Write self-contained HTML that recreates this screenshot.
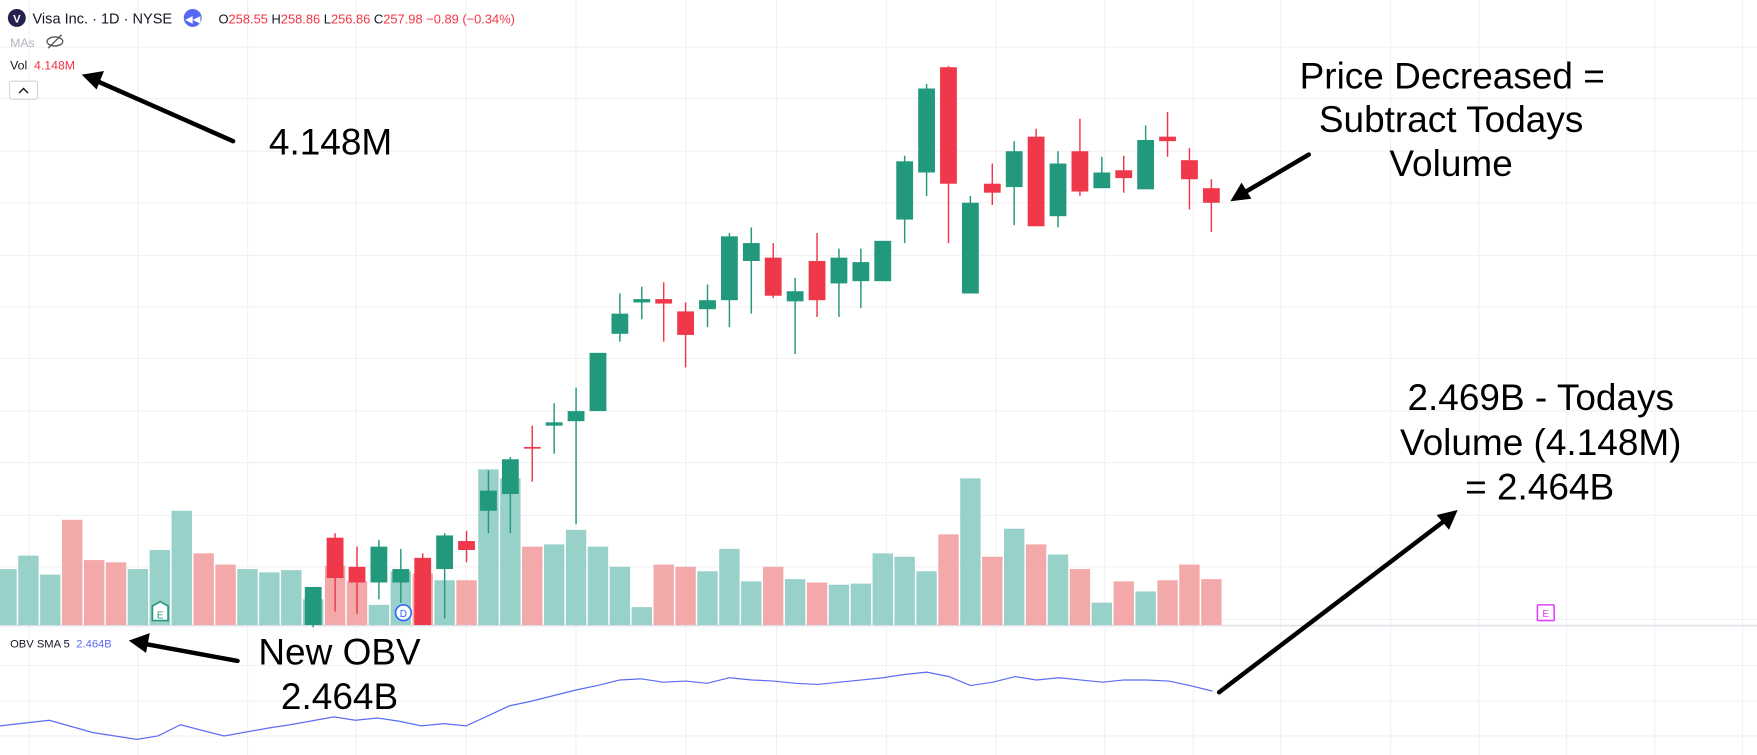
<!DOCTYPE html>
<html><head><meta charset="utf-8"><style>
html,body{margin:0;padding:0;background:#fff;overflow:hidden}
svg{display:block}
text{font-family:"Liberation Sans",sans-serif}
</style></head><body>
<svg id="s" width="1757" height="755" viewBox="0 0 1568 674" preserveAspectRatio="none" xmlns="http://www.w3.org/2000/svg">
<g id="grid" stroke="#f0f1f3" stroke-width="1"></g>
<line x1="0" y1="558.5" x2="1568" y2="558.5" stroke="#e0e3eb" stroke-width="1.5"/>
<g id="vol"></g>
<g id="cand"></g>
<polyline id="obv" fill="none" stroke="#5b6cf5" stroke-width="1.1"/>
<!-- header -->
<circle cx="15" cy="16" r="8" fill="#24214f"/>
<text x="15" y="20" font-size="10" font-weight="bold" fill="#fff" text-anchor="middle">V</text>
<text x="29" y="21" font-size="13" fill="#131722">Visa Inc. · 1D · NYSE</text>
<circle cx="172" cy="16" r="8" fill="#5667f2"/>
<text x="172" y="20" font-size="9" fill="#fff" text-anchor="middle">◀◀</text>
<text x="195" y="21" font-size="11.5" fill="#131722">O<tspan fill="#f23645">258.55</tspan> H<tspan fill="#f23645">258.86</tspan> L<tspan fill="#f23645">256.86</tspan> C<tspan fill="#f23645">257.98 −0.89 (−0.34%)</tspan></text>
<text x="9" y="42" font-size="11" fill="#b2b5be">MAs</text>
<g stroke="#555" fill="none" stroke-width="1.2"><ellipse cx="49" cy="37" rx="7" ry="4"/><line x1="43" y1="43" x2="55" y2="31"/></g>
<text x="9" y="62" font-size="11" fill="#131722">Vol <tspan fill="#f23645" dx="3">4.148M</tspan></text>
<rect x="8.5" y="72.5" width="25" height="16" rx="2" fill="#fff" stroke="#d1d4dc"/>
<path d="M17 83 L21 79 L25 83" stroke="#131722" fill="none" stroke-width="1.3"/>
<text x="9" y="578" font-size="10" fill="#131722">OBV SMA 5 <tspan fill="#5b6cf5" dx="3">2.464B</tspan></text>
<!-- markers -->
<path d="M136 541 L143 537 L150 541 L150 554 L136 554 Z" fill="#fff" stroke="#22997d" stroke-width="1.5"/>
<text x="143" y="552" font-size="9" fill="#22997d" text-anchor="middle">E</text>
<circle cx="360" cy="547" r="7" fill="#fff" stroke="#2962ff" stroke-width="1.4"/>
<text x="360" y="551" font-size="9" fill="#2962ff" text-anchor="middle">D</text>
<rect x="1372" y="540" width="15" height="14" rx="1" fill="#fff" stroke="#e040fb" stroke-width="1.4"/>
<text x="1379.5" y="551" font-size="9" fill="#e040fb" text-anchor="middle">E</text>
<!-- annotations -->
<g font-size="33" fill="#000" text-anchor="middle">
<text x="295" y="138">4.148M</text>
<text x="1296" y="79">Price Decreased =</text>
<text x="1295" y="118">Subtract Todays</text>
<text x="1295" y="157">Volume</text>
<text x="1375" y="366">2.469B - Todays</text>
<text x="1375" y="406">Volume (4.148M)</text>
<text x="1374" y="446">= 2.464B</text>
<text x="303" y="593">New OBV</text>
<text x="303" y="633">2.464B</text>
</g>
<g stroke="#000" stroke-width="4" stroke-linecap="round" fill="#000">
<line x1="208" y1="126" x2="88" y2="73"/>
<path d="M74 67 L92 64 L86 79 Z" stroke-width="1"/>
<line x1="1168" y1="138" x2="1112" y2="171"/>
<path d="M1099 179 L1108 164 L1116 177 Z" stroke-width="1"/>
<line x1="1088" y1="618" x2="1289" y2="465"/>
<path d="M1300 456 L1283 460 L1293 472 Z" stroke-width="1"/>
<line x1="212" y1="590" x2="130" y2="575"/>
<path d="M116 572 L133 566 L130 582 Z" stroke-width="1"/>
</g>
</svg>
<script>
const NS="http://www.w3.org/2000/svg";
function el(p,t,a){const e=document.createElementNS(NS,t);for(const k in a)e.setAttribute(k,a[k]);p.appendChild(e);return e;}
const g=document.getElementById('grid');
[26,123,221,318,416,514,612,693,791,889,986,1065,1143,1241,1320,1398,1477,1555].forEach(x=>el(g,'line',{x1:x,y1:0,x2:x,y2:674}));
[42,88,135,181,228,274,320,367,413,460,506,553,594,626,657].forEach(y=>el(g,'line',{x1:0,y1:y,x2:1568,y2:y}));
const vols=[[508,1],[496,1],[513,1],[464,0],[500,0],[502,0],[508,1],[491,1],[456,1],[494,0],[504,0],[508,1],[511,1],[509,1],[535,1],[505,0],[519,0],[540,1],[510,1],[512,0],[518,1],[518,0],[419,1],[427,1],[488,0],[486,1],[473,1],[488,1],[506,1],[542,1],[504,0],[506,0],[510,1],[490,1],[519,1],[506,0],[517,1],[520,0],[522,1],[521,1],[494,1],[497,1],[510,1],[477,0],[427,1],[497,0],[472,1],[486,0],[495,1],[508,0],[538,1],[519,0],[528,1],[518,0],[504,0],[517,0]];
const vg=document.getElementById('vol');
vols.forEach((v,i)=>{const c=19.55*i+5.8;el(vg,'rect',{x:c-9.1,y:v[0],width:18.2,height:558-v[0],fill:v[1]?'#98d1c9':'#f3a9a9'});});
const cs=[[1,524,558,524,560],[0,480,516,476,546],[0,506,520,488,548],[1,488,520,482,535],[1,508,520,490,538],[0,498,558,494,558],[1,478,508,476,552],[0,483,491,474,502],[1,438,456,420,476],[1,410,441,408,476],[0,399,400.5,380,430],[1,377,380,360,405],[1,367,376,346,468],[1,315,367,315,367],[1,280,298,262,305],[1,267,270,256,285],[0,267,271,252,305],[0,278,299,270,328],[1,268,276,254,292],[1,211,268,208,292],[1,217,233,203,280],[0,230,264,217,266],[1,260,269,248,316],[0,233,268,208,283],[1,230,253,222,283],[1,234,251,222,275],[1,215,251,215,251],[1,144,196,139,217],[1,79,154,75,175],[0,60,164,59,217],[1,181,262,175,262],[0,164,172,146,183],[1,135,167,126,201],[0,122,202,115,202],[1,146,193,135,203],[0,135,171,106,175],[1,154,168,140,168],[0,152,159,139,172],[1,125,169,112,169],[0,122,126,100,140],[0,143,160,132,187],[0,168,181,160,207]];
const cg=document.getElementById('cand');
cs.forEach((d,k)=>{const i=k+14,c=19.55*i+5.8,col=d[0]?'#22997d':'#f0384b';
el(cg,'line',{x1:c,y1:d[3],x2:c,y2:d[4],stroke:col,'stroke-width':1.3});
el(cg,'rect',{x:c-7.5,y:d[1],width:15,height:Math.max(1.5,d[2]-d[1]),fill:col});});
document.getElementById('obv').setAttribute('points',"0,648 44,643 83,654 122,660 141,657 161,647 200,657 239,650 259,647 298,640 317,643 337,641 357,644 376,648 396,646 416,648 455,630 474,626 494,621 514,616 533,612 553,607 572,606 592,609 612,608 631,610 651,605 671,607 690,608 710,610 730,611 749,609 769,607 788,605 808,602 827,600 847,604 866,612 886,609 906,604 925,607 945,605 964,607 984,609 1003,607 1023,607 1043,608 1062,612 1082,617");
</script>
</body></html>
